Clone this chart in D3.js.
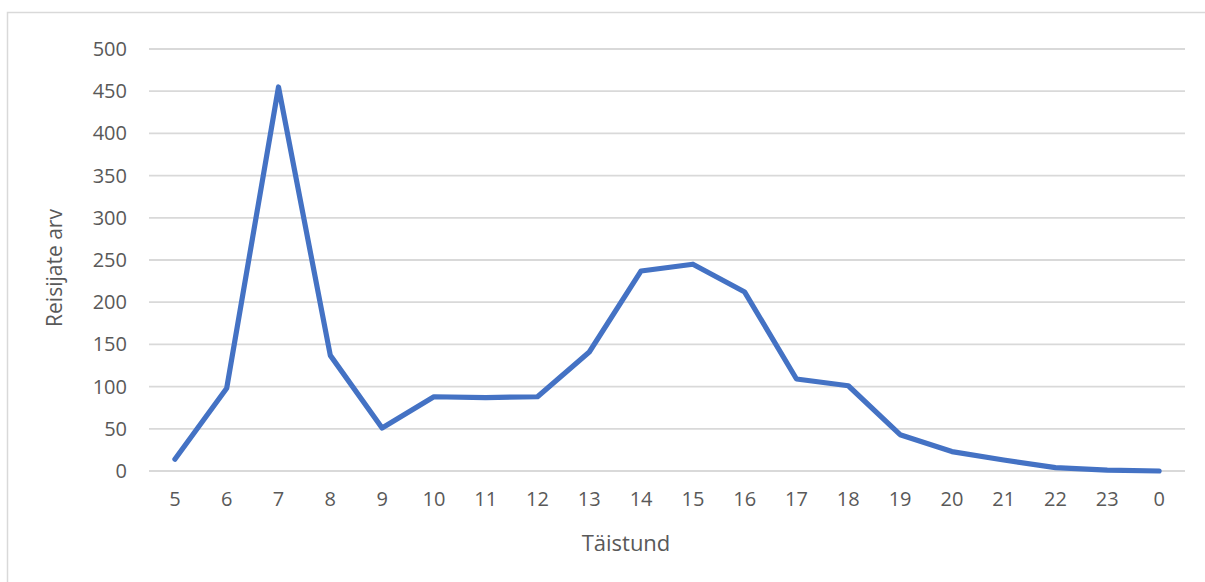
<!DOCTYPE html>
<html>
<head>
<meta charset="utf-8">
<script src="https://cdn.jsdelivr.net/npm/d3@7"></script>
<style>
  html, body { margin: 0; padding: 0; background: #fff; }
  svg { display: block; }
  text { font-family: "Open Sans", "Liberation Sans", sans-serif; fill: #595959; }
</style>
</head>
<body>
<div id="chart"></div>
<script>
// hours of the day (x categories)
const hours = ["5", "6", "7", "8", "9", "10", "11", "12", "13", "14", "15", "16", "17", "18", "19", "20", "21", "22", "23", "0"];
// passenger counts per hour
const passengers = [14, 98, 455, 137, 51, 88, 87, 88, 141, 237, 245, 212, 109, 101, 43, 23, 13, 4, 1, 0];
const yTicks = [0, 50, 100, 150, 200, 250, 300, 350, 400, 450, 500];

const width = 1205, height = 582;
const margin = { top: 49, right: 20, bottom: 111, left: 149 };
const plotW = 1185 - margin.left;
const plotH = 471 - margin.top;

const svg = d3.select("#chart").append("svg")
    .attr("width", width)
    .attr("height", height);

// chart area border (only top and left visible in the crop)
svg.append("rect")
    .attr("x", 7.5).attr("y", 12.5)
    .attr("width", 1400).attr("height", 800)
    .attr("fill", "none")
    .attr("stroke", "#d9d9d9")
    .attr("stroke-width", 1.5);

const g = svg.append("g").attr("transform", `translate(${margin.left},${margin.top})`);

const x = d3.scaleBand().domain(hours).range([0, plotW]);
const y = d3.scaleLinear().domain([0, 500]).range([plotH, 0]);

// gridlines
g.append("g")
    .selectAll("line")
    .data(yTicks)
    .join("line")
    .attr("x1", 0).attr("x2", plotW)
    .attr("y1", d => y(d)).attr("y2", d => y(d))
    .attr("stroke", "#d9d9d9")
    .attr("stroke-width", 1.8);

// y axis labels
const yAxis = g.append("g")
    .call(d3.axisLeft(y).tickValues(yTicks).tickSize(0).tickPadding(22));
yAxis.select(".domain").remove();
yAxis.selectAll("text")
    .style("font-size", "20px")
    .attr("fill", "#595959");

// x axis labels
const xAxis = g.append("g")
    .attr("transform", `translate(0,${plotH})`)
    .call(d3.axisBottom(x).tickSize(0).tickPadding(21));
xAxis.select(".domain").remove();
xAxis.selectAll("text")
    .style("font-size", "20px")
    .attr("fill", "#595959");

// line
const line = d3.line()
    .x((d, i) => x(hours[i]) + x.bandwidth() / 2)
    .y(d => y(d));

g.append("path")
    .datum(passengers)
    .attr("fill", "none")
    .attr("stroke", "#4472c4")
    .attr("stroke-width", 5.2)
    .attr("stroke-linejoin", "round")
    .attr("stroke-linecap", "round")
    .attr("d", line);

// axis titles
svg.append("text")
    .attr("x", margin.left + plotW / 2 - 41)
    .attr("y", 551)
    .attr("text-anchor", "middle")
    .style("font-size", "22px")
    .text("Täistund");

svg.append("text")
    .attr("transform", "translate(62,268) rotate(-90)")
    .attr("text-anchor", "middle")
    .style("font-size", "21px")
    .text("Reisijate arv");
</script>
</body>
</html>
